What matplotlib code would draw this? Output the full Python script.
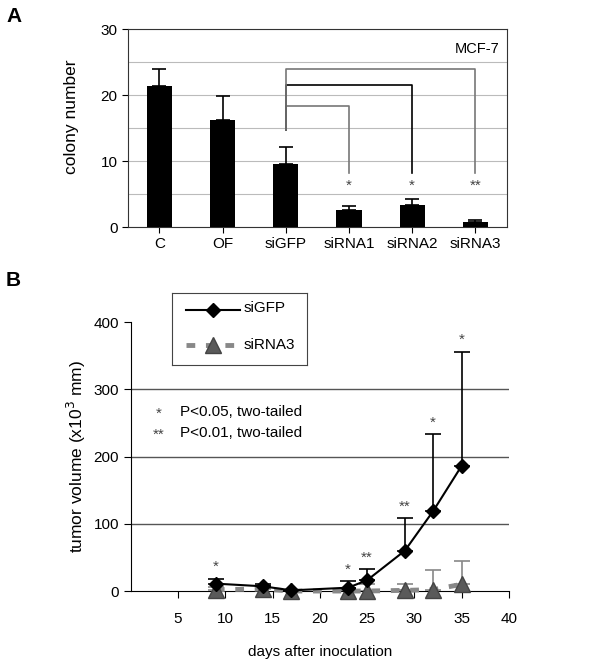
import numpy as np
import matplotlib.pyplot as plt

plt.rcParams['font.family'] = ['Liberation Sans', 'DejaVu Sans']

# Panel A: colony formation
groups = ['C', 'OF', 'siGFP', 'siRNA1', 'siRNA2', 'siRNA3']
colony = [21.3, 16.2, 9.6, 2.6, 3.3, 0.8]
colony_err = [2.7, 3.6, 2.6, 0.6, 0.9, 0.2]
bracket_to = [3, 4, 5]
bracket_h = [18.3, 21.5, 23.9]
bracket_col = ['#777777', '#000000', '#777777']
bracket_star = ['*', '*', '**']

# Panel B: tumor growth
days = [9, 14, 17, 23, 25, 29, 32, 35]
gfp = [11, 7, 1, 5, 16, 60, 119, 186]
gfp_err = [7, 3, 1, 10, 17, 49, 114, 170]
rna3 = [2, 3, 0, 0, 0, 1, 2, 10]
rna3_err = [4, 4, 1, 1, 10, 9, 30, 34]
star_y = [36, 31, 50, 125, 250, 373]
star_days = [9, 23, 25, 29, 32, 35]
star_txt = ['*', '*', '**', '**', '*', '*']

fig = plt.figure(figsize=(6, 6.6), dpi=100)

# ---- A ----
axA = fig.add_axes([0.213, 0.656, 0.632, 0.300])
x = np.arange(len(groups))
axA.bar(x, colony, width=0.4, color='black', zorder=3)
axA.errorbar(x, colony, yerr=[np.zeros(len(x)), colony_err], fmt='none',
             ecolor='black', elinewidth=1.2, capsize=5, capthick=1.2, zorder=3)
axA.set_xlim(-0.5, 5.5)
axA.set_ylim(0, 30)
axA.set_yticks([0, 10, 20, 30])
axA.set_yticks([5, 15, 25], minor=True)
axA.grid(axis='y', which='both', color='#bbbbbb', lw=0.8, zorder=0)
axA.set_xticks(x)
axA.set_xticklabels(groups, fontsize=11)
axA.tick_params(axis='y', labelsize=11, length=4, which='major')
axA.tick_params(axis='y', which='minor', length=0)
axA.tick_params(axis='x', length=4)
axA.set_ylabel('colony number', fontsize=12.5)
axA.yaxis.set_label_coords(-0.13, 0.555)
for s in axA.spines.values():
    s.set_color('#333333')
axA.text(0.98, 0.9, 'MCF-7', transform=axA.transAxes, ha='right', va='center', fontsize=10.5)
for j, h, c, st in zip(bracket_to, bracket_h, bracket_col, bracket_star):
    axA.plot([2, 2, j, j], [14.7, h, h, 8.2], color=c, lw=1.2, zorder=4)
    axA.text(j, 6.2, st, ha='center', va='center', fontsize=11, color='#444444')
fig.text(0.01, 0.975, 'A', fontsize=15, fontweight='bold', va='center')

# ---- B ----
axB = fig.add_axes([0.218, 0.1045, 0.63, 0.4075])
axB.set_xlim(0, 40)
axB.set_ylim(0, 400)
for gy in [100, 200, 300]:
    axB.axhline(gy, color='#555555', lw=1.0, zorder=0)
axB.errorbar(days, rna3, yerr=[np.zeros(len(days)), rna3_err], fmt='none',
             ecolor='#888888', elinewidth=1.2, capsize=6, capthick=1.2, zorder=2, clip_on=False)
axB.plot(days, rna3, ls=(0, (1.8, 2.2)), color='#888888', lw=3.5, marker='^',
         markersize=11, markerfacecolor='#5a5a5a', markeredgecolor='#444444', zorder=3, clip_on=False)
axB.errorbar(days, gfp, yerr=[np.zeros(len(days)), gfp_err], fmt='none',
             ecolor='black', elinewidth=1.2, capsize=6, capthick=1.2, zorder=4)
axB.plot(days, gfp, '-', color='black', lw=1.5, marker='D', markersize=7, zorder=5, clip_on=False)
for d, yy, t in zip(star_days, star_y, star_txt):
    axB.text(d, yy, t, ha='center', va='center', fontsize=11, color='#444444')
axB.set_xticks([5, 10, 15, 20, 25, 30, 35, 40])
axB.set_yticks([0, 100, 200, 300, 400])
axB.tick_params(labelsize=11, length=5, direction='out')
axB.tick_params(axis='x', pad=10)
axB.spines['top'].set_visible(False)
axB.spines['right'].set_visible(False)
axB.set_xlabel('days after inoculation', fontsize=11, labelpad=14)
axB.set_ylabel('tumor volume (x10$^3$ mm)', fontsize=12.5, labelpad=4)
axB.text(3.0, 264, '*', ha='center', va='center', fontsize=11, color='#444444')
axB.text(5.2, 266, 'P<0.05, two-tailed', ha='left', va='center', fontsize=11)
axB.text(3.0, 233, '**', ha='center', va='center', fontsize=11, color='#444444')
axB.text(5.2, 235, 'P<0.01, two-tailed', ha='left', va='center', fontsize=11)
fig.text(0.01, 0.575, 'B', fontsize=15, fontweight='bold', va='center')

# legend box drawn by hand in figure coords
lg = fig.add_axes([0.287, 0.447, 0.225, 0.109])
lg.set_xlim(0, 1)
lg.set_ylim(0, 1)
lg.set_xticks([])
lg.set_yticks([])
for s in lg.spines.values():
    s.set_color('#444444')
lg.plot([0.1, 0.5], [0.77, 0.77], '-', color='black', lw=1.5)
lg.plot([0.3], [0.77], 'D', color='black', markersize=7)
lg.plot([0.1, 0.5], [0.28, 0.28], ls=(0, (1.8, 2.2)), color='#888888', lw=3.5)
lg.plot([0.3], [0.28], '^', markersize=11, markerfacecolor='#5a5a5a', markeredgecolor='#444444')
lg.text(0.53, 0.79, 'siGFP', fontsize=11, va='center')
lg.text(0.53, 0.28, 'siRNA3', fontsize=11, va='center')

fig.savefig('out.png', dpi=100)
